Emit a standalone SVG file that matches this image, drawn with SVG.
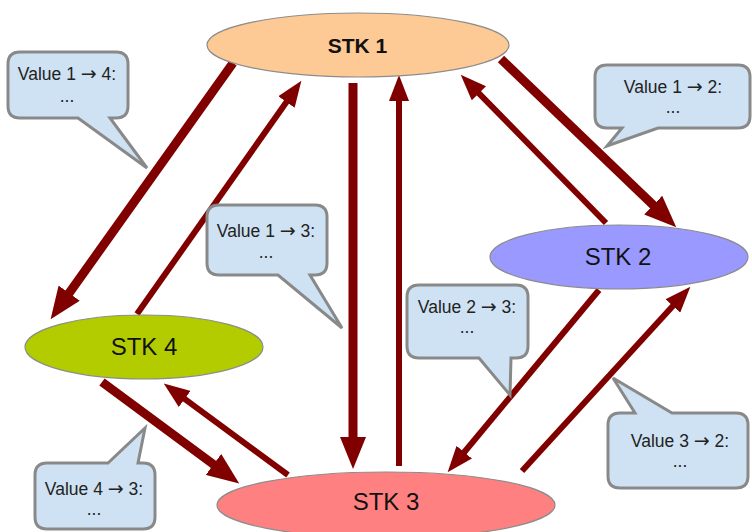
<svg xmlns="http://www.w3.org/2000/svg" width="752" height="532" viewBox="0 0 752 532">
<style>
.node{stroke:#8c8c8c;stroke-width:1.2}
.lbl{font-family:"Liberation Sans",Arial,sans-serif;font-size:24px;fill:#111;text-anchor:middle}
.thick{stroke:#800000;stroke-width:9;fill:none;marker-end:url(#headL)}
.thin{stroke:#800000;stroke-width:6;fill:none;marker-end:url(#headS)}
.call{fill:#cfe2f3;stroke:#898989;stroke-width:3;stroke-linejoin:miter}
.ct{font-family:"Liberation Sans",Arial,sans-serif;font-size:17.5px;fill:#222;text-anchor:middle}
.ar{font-family:"DejaVu Sans",sans-serif;font-size:19px}
</style>
<defs>
<marker id="headL" markerUnits="userSpaceOnUse" viewBox="0 -13 32 26" markerWidth="32" markerHeight="26" refX="1" refY="0" orient="auto">
<path d="M0,-13 L32,0 L0,13 Z" fill="#800000"/>
</marker>
<marker id="headS" markerUnits="userSpaceOnUse" viewBox="0 -10 26 20" markerWidth="26" markerHeight="20" refX="1" refY="0" orient="auto">
<path d="M0,-10 L26,0 L0,10 Z" fill="#800000"/>
</marker>
</defs>
<rect width="752" height="532" fill="#fff"/>
<g id="connectors">
<line class="thick" x1="233" y1="63" x2="68.6" y2="293.9"/>
<line class="thin" x1="137" y1="314" x2="287" y2="101.2"/>
<line class="thick" x1="353" y1="83" x2="353" y2="438"/>
<line class="thin" x1="399" y1="466" x2="399" y2="100"/>
<line class="thick" x1="501" y1="59" x2="653.9" y2="205.8"/>
<line class="thin" x1="606" y1="223" x2="478.2" y2="92.6"/>
<line class="thin" x1="599" y1="290" x2="463.6" y2="453"/>
<line class="thin" x1="522" y1="471" x2="673.5" y2="305.2"/>
<line class="thick" x1="102" y1="382" x2="214.3" y2="465"/>
<line class="thin" x1="288" y1="475" x2="183.9" y2="398.4"/>
</g>
<g id="stk1"><ellipse class="node" cx="358" cy="45" rx="151" ry="32" fill="#fdc995"/><text class="lbl" x="357.5" y="53" style="font-weight:bold;font-size:21px">STK 1</text></g>
<g id="stk2"><ellipse class="node" cx="619" cy="257" rx="129" ry="32" fill="#9999ff"/><text class="lbl" x="618" y="265">STK 2</text></g>
<g id="stk4"><ellipse class="node" cx="144" cy="347" rx="119" ry="32" fill="#b2cc00"/><text class="lbl" x="144" y="355">STK 4</text></g>
<g id="stk3"><ellipse class="node" cx="386" cy="505" rx="169" ry="33" fill="#ff8080"/><text class="lbl" x="386" y="510">STK 3</text></g>
<g id="callout14"><path class="call" d="M20,52 H116 Q128,52 128,64 V106 Q128,118 116,118 H110 L147,168 L78,118 H20 Q8,118 8,106 V64 Q8,52 20,52 Z"/><text class="ct" x="67" y="80">Value 1 <tspan class="ar">→</tspan> 4:</text><text class="ct" x="67" y="102">...</text></g>
<g id="callout12"><path class="call" d="M607,65 H738 Q750,65 750,77 V116 Q750,128 738,128 H658 L607,146 L622,128 H607 Q595,128 595,116 V77 Q595,65 607,65 Z"/><text class="ct" x="673" y="93">Value 1 <tspan class="ar">→</tspan> 2:</text><text class="ct" x="673" y="113">...</text></g>
<g id="callout13"><path class="call" d="M219,205 H315 Q327,205 327,217 V263 Q327,275 315,275 H310 L342,328 L278,275 H219 Q207,275 207,263 V217 Q207,205 219,205 Z"/><text class="ct" x="266" y="237">Value 1 <tspan class="ar">→</tspan> 3:</text><text class="ct" x="266" y="258">...</text></g>
<g id="callout23"><path class="call" d="M419,285 H516 Q528,285 528,297 V346 Q528,358 516,358 H511 L510,395 L479,358 H419 Q407,358 407,346 V297 Q407,285 419,285 Z"/><text class="ct" x="467" y="313">Value 2 <tspan class="ar">→</tspan> 3:</text><text class="ct" x="467" y="333">...</text></g>
<g id="callout32"><path class="call" d="M620,413 H635 L613,378 L672,413 H736 Q748,413 748,425 V476 Q748,488 736,488 H620 Q608,488 608,476 V425 Q608,413 620,413 Z"/><text class="ct" x="680" y="447">Value 3 <tspan class="ar">→</tspan> 2:</text><text class="ct" x="680" y="467">...</text></g>
<g id="callout43"><path class="call" d="M47,463 H108 L145,428 L138,463 H143 Q155,463 155,475 V517 Q155,529 143,529 H47 Q35,529 35,517 V475 Q35,463 47,463 Z"/><text class="ct" x="94" y="495">Value 4 <tspan class="ar">→</tspan> 3:</text><text class="ct" x="94" y="515">...</text></g>
</svg>
